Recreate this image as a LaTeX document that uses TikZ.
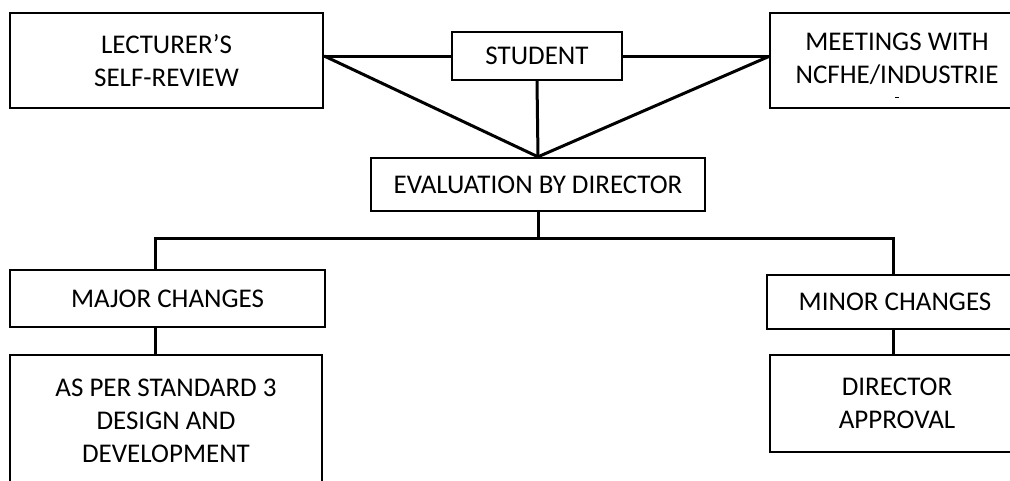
\documentclass[tikz,border=0pt]{standalone}
\usepackage{fontspec}
\setmainfont{Carlito}
\begin{document}
\begin{tikzpicture}[x=1pt,y=-1pt,
  box/.style={draw, line width=2.4pt, inner sep=0pt, align=center,
    font=\fontsize{27}{33}\selectfont},
  txt/.style={inner sep=0pt, align=center, font=\fontsize{27}{33}\selectfont},
  edge/.style={line width=2.4pt},
  link/.style={line width=3pt}]
\useasboundingbox (0,0) rectangle (1010,480);
\node[box, minimum width=313pt, minimum height=95pt] (lect) at (166.5,60.5) {LECTURER’S\\SELF-REVIEW};
\node[box, minimum width=170pt, minimum height=48pt] (stud) at (537,56) {STUDENT};
\node[txt] (meettxt) at (897,58.5) {MEETINGS WITH\\NCFHE/INDUSTRIE};
\coordinate (meetNW) at (770,13);
\coordinate (meetSW) at (770,108);
\draw[edge] (1012,13) -- (meetNW) -- (meetSW) -- (1012,108);
\node[box, minimum width=334pt, minimum height=53pt] (eval) at (538,184.5) {EVALUATION BY DIRECTOR};
\node[box, minimum width=315pt, minimum height=57pt] (major) at (167.5,298.5) {MAJOR CHANGES};
\node[txt] (minortxt) at (895,302) {MINOR CHANGES};
\coordinate (minorNW) at (767,275);
\coordinate (minorSW) at (767,329);
\draw[edge] (1012,275) -- (minorNW) -- (minorSW) -- (1012,329);
\node[box, minimum width=312pt, minimum height=132pt] (aspr) at (166,421) {AS PER STANDARD 3\\DESIGN AND\\DEVELOPMENT};
\node[txt] (dirtxt) at (897,403.5) {DIRECTOR\\APPROVAL};
\coordinate (dirNW) at (770,355);
\coordinate (dirSW) at (770,452);
\draw[edge] (1012,355) -- (dirNW) -- (dirSW) -- (1012,452);
\draw[line width=1pt] (895,97) -- (899,97);
\coordinate (lp) at (lect.east |- stud.west);
\coordinate (rp) at (meetNW |- stud.east);
\coordinate (busL) at (155,238);
\coordinate (busR) at (893,238);
\draw[link] (lp) -- (stud.west);
\draw[link] (stud.east) -- (rp);
\draw[link] (lp) -- (eval.north);
\draw[link] (rp) -- (eval.north);
\draw[link] (stud.south) -- (eval.north);
\draw[link] (eval.south) -- (eval.south |- busL);
\draw[link] (busL |- major.north) -- (busL) -- (busR) -- (busR |- minorNW);
\draw[link] (busL |- major.south) -- (busL |- aspr.north);
\draw[link] (busR |- minorSW) -- (busR |- dirNW);
\end{tikzpicture}
\end{document}
